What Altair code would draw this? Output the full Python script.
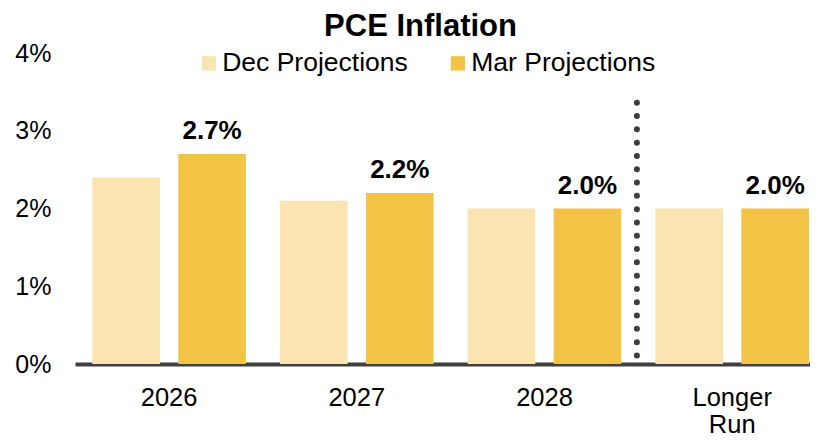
import altair as alt
import pandas as pd

# ---- data ----
categories = ["2026", "2027", "2028", "Longer Run"]
series = ["Dec Projections", "Mar Projections"]
dec_values = [2.4, 2.1, 2.0, 2.0]
mar_values = [2.7, 2.2, 2.0, 2.0]
y_ticks = [0, 1, 2, 3, 4]
divider_category = "Longer Run"
divider_top = 3.36
divider_bottom = 0.0

colors = ["#FAE5B2", "#F2C345"]
FONT = "Liberation Sans"

rows = []
for c, d, m in zip(categories, dec_values, mar_values):
    rows.append({"cat": c, "series": series[0], "value": d})
    rows.append({"cat": c, "series": series[1], "value": m})
df = pd.DataFrame(rows)
df["label"] = df["value"].map(lambda v: f"{v:.1f}%")

div_df = pd.DataFrame({"cat": [divider_category], "top": [divider_top], "bottom": [divider_bottom]})

x_enc = alt.X(
    "cat:N",
    sort=categories,
    title=None,
    scale=alt.Scale(paddingInner=0.1817, paddingOuter=0.0487, align=0.945),
    axis=alt.Axis(
        labelAngle=0,
        labelFont=FONT,
        labelFontSize=25.5,
        labelColor="#000000",
        labelPadding=21,
        labelLineHeight=27,
        labelExpr="datum.label == 'Longer Run' ? ['Longer', 'Run'] : datum.label",
        ticks=False,
        tickSize=0,
        domainColor="#404040",
        domainWidth=4,
        grid=False,
    ),
)
y_enc = alt.Y(
    "value:Q",
    title=None,
    scale=alt.Scale(domain=[0, 4], nice=False),
    axis=alt.Axis(
        values=y_ticks,
        labelExpr="datum.value + '%'",
        labelFont=FONT,
        labelFontSize=25,
        labelColor="#000000",
        labelPadding=24,
        ticks=False,
        domain=False,
        grid=False,
    ),
)
xoff = alt.XOffset(
    "series:N",
    sort=series,
    scale=alt.Scale(paddingInner=0.214, paddingOuter=0),
)

bars = alt.Chart(df).mark_bar().encode(
    x=x_enc,
    xOffset=xoff,
    y=y_enc,
    color=alt.Color(
        "series:N",
        sort=series,
        scale=alt.Scale(domain=series, range=colors),
        legend=alt.Legend(
            title=None,
            orient="none",
            legendX=120.7,
            legendY=-3,
            direction="horizontal",
            columns=2,
            columnPadding=36,
            symbolType="square",
            symbolSize=205,
            symbolStrokeWidth=0,
            symbolOpacity=1,
            labelFont=FONT,
            labelFontSize=26.5,
            labelColor="#000000",
            labelOffset=0,
            labelLimit=0,
            padding=0,
        ),
    ),
)

labels = alt.Chart(df).transform_filter(
    alt.datum.series == series[1]
).mark_text(
    font=FONT, fontSize=26, fontWeight="bold", color="#000000",
    baseline="alphabetic", dy=-15,
).encode(
    x=alt.X("cat:N", sort=categories),
    xOffset=alt.XOffset("series:N", sort=series),
    y="value:Q",
    text="label:N",
)

divider = alt.Chart(div_df).mark_rule(
    strokeDash=[0, 13.3], strokeCap="round", strokeWidth=6,
    color="#3d3d3d", xOffset=-18.5,
).encode(
    x=alt.X("cat:N", sort=categories, bandPosition=0),
    y="top:Q",
    y2="bottom:Q",
)

chart = alt.layer(bars, divider, labels).properties(
    width=735,
    height=311,
    padding={"left": 67, "top": 45, "right": 0, "bottom": 76},
    autosize=alt.AutoSizeParams(type="none"),
    title=alt.TitleParams(
        "PCE Inflation",
        font=FONT, fontSize=31, fontWeight="bold", color="#000000",
        anchor="middle", frame="group", dx=-22, dy=1.5, offset=0,
    ),
).configure_view(stroke=None)

chart.save("out.html", embed_options={"renderer": "svg", "actions": False})
